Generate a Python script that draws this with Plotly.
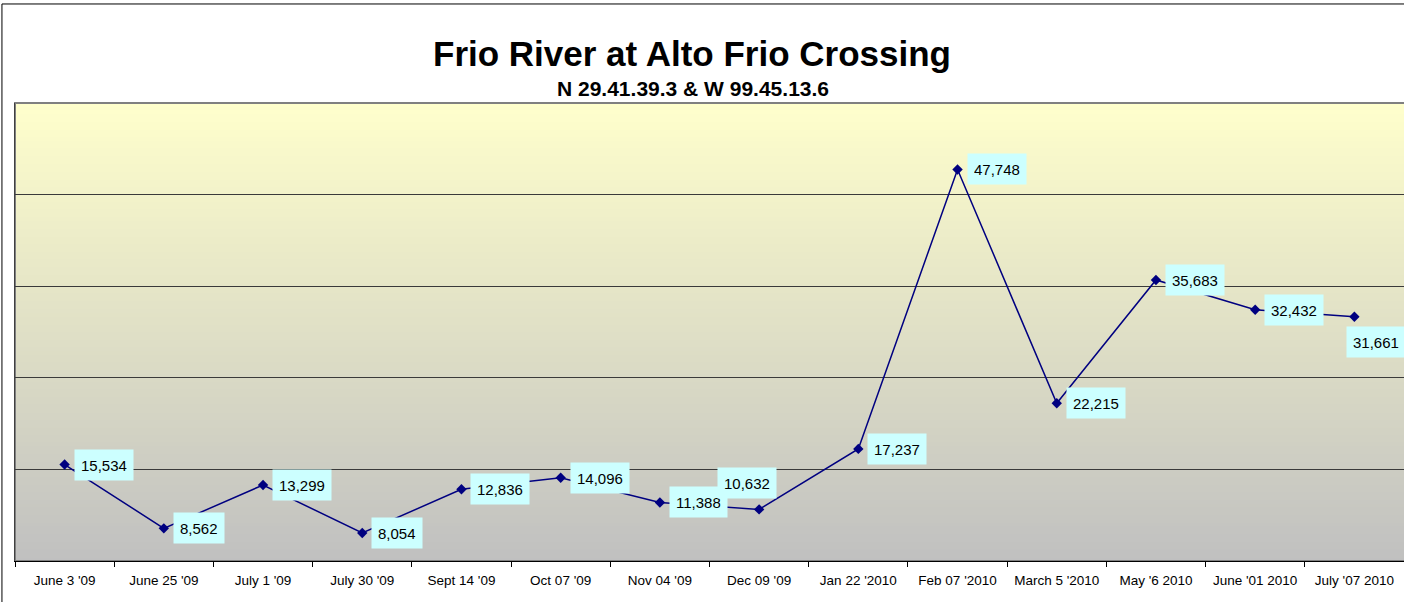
import plotly.graph_objects as go

categories = ["June 3 '09", "June 25 '09", "July 1 '09", "July 30 '09", "Sept 14 '09",
              "Oct 07 '09", "Nov 04 '09", "Dec 09 '09", "Jan 22 '2010", "Feb 07 '2010",
              "March 5 '2010", "May '6 2010", "June '01 2010", "July '07 2010"]
values = [15534, 8562, 13299, 8054, 12836, 14096, 11388, 10632, 17237, 47748,
          22215, 35683, 32432, 31661]
label_texts = ["{:,}".format(v) for v in values]

title_text = "Frio River at Alto Frio Crossing"
subtitle_text = "N 29.41.39.3 & W 99.45.13.6"

FONT = "Liberation Sans, Arial, sans-serif"

fig = go.Figure()
fig.add_trace(go.Scatter(
    x=categories, y=values, mode="lines+markers",
    line=dict(color="#000080", width=1.5),
    marker=dict(symbol="diamond", size=8, color="#000080"),
    hoverinfo="x+y", showlegend=False,
))

# data labels
special = {7: dict(xanchor="center", xshift=-12, yshift=26),
           13: dict(xanchor="left", xshift=-8, yshift=-25)}
for i, (c, v, t) in enumerate(zip(categories, values, label_texts)):
    opts = special.get(i, dict(xanchor="left", xshift=9, yshift=0))
    fig.add_annotation(x=c, y=v, text=t, showarrow=False,
                       yanchor="middle", bgcolor="#CCFFFF", borderpad=6, height=18,
                       font=dict(family=FONT, size=15, color="#000000"), **opts)

# gradient background
shapes = []
n = 120
top = (255, 255, 204)
bot = (192, 192, 192)
for i in range(n):
    f = (i + 0.5) / n
    col = tuple(int(round(bot[k] + (top[k] - bot[k]) * f)) for k in range(3))
    shapes.append(dict(type="rect", xref="paper", yref="paper",
                       x0=0, x1=1.002, y0=i / n, y1=(i + 1) / n + 0.002,
                       fillcolor="rgb(%d,%d,%d)" % col, line=dict(width=0),
                       layer="below"))
# plot area border
shapes.append(dict(type="rect", xref="paper", yref="paper", x0=0, x1=1.003, y0=0, y1=1,
                   line=dict(color="#808080", width=2), layer="below"))
# outer chart border
shapes.append(dict(type="rect", xref="paper", yref="paper",
                   x0=-0.0094, x1=1.05, y0=-0.2, y1=1.2162,
                   line=dict(color="#000000", width=1), layer="below"))

PT, PB = 103, 561
PL, PW = 15, 1389
def py(p):
    return (PB - p) / (PB - PT)
def px(p):
    return (p - PL) / PW

fig.add_annotation(x=px(692), y=py(53), xref="paper", yref="paper", yanchor="middle",
                   text="<b>%s</b>" % title_text, showarrow=False,
                   font=dict(family=FONT, size=35, color="#000000"))
fig.add_annotation(x=px(693), y=py(88), xref="paper", yref="paper", yanchor="middle",
                   text="<b>%s</b>" % subtitle_text, showarrow=False,
                   font=dict(family=FONT, size=21, color="#000000"))

fig.update_layout(
    width=1404, height=602,
    margin=dict(l=15, r=0, t=103, b=41),
    paper_bgcolor="white", plot_bgcolor="#C0C0C0",
    shapes=shapes,
    xaxis=dict(type="category", range=[-0.5, 13.5], showgrid=False, automargin=False,
               showline=True, linecolor="#000000", linewidth=1,
               ticks="outside", ticklen=5, tickcolor="#000000", tickson="boundaries",
               ticklabelstandoff=7,
               tickfont=dict(family=FONT, size=13.5, color="#000000"), zeroline=False),
    yaxis=dict(range=[5000, 55000], tickvals=[15000, 25000, 35000, 45000], automargin=False,
               showticklabels=False, showgrid=True, gridcolor="#3a3a3a", gridwidth=1,
               showline=True, linecolor="#404040", linewidth=1, zeroline=False, ticks=""),
)

fig.write_html("out.html", config={"displayModeBar": False},
               post_script="document.body.style.margin='0';document.body.style.overflow='hidden';")
